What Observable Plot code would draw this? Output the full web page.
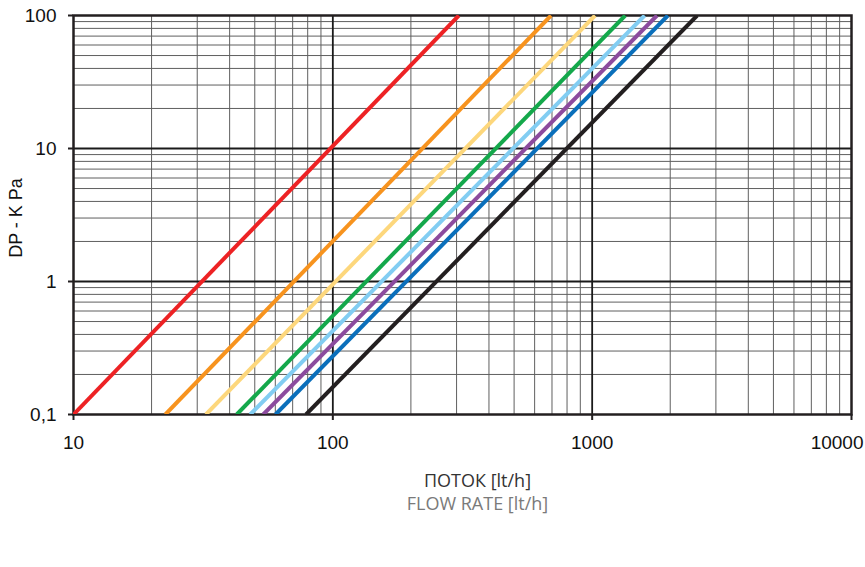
<!DOCTYPE html>
<html>
<head>
<meta charset="utf-8">
<script src="https://cdn.jsdelivr.net/npm/d3@7"></script>
<script src="https://cdn.jsdelivr.net/npm/@observablehq/plot@0.6"></script>
<style>
  html, body { margin: 0; padding: 0; background: #fff; }
  svg { display: block; }
</style>
</head>
<body>
<div id="chart"></div>
<script>
// Series (curves)
const seriesNames = ["rosso", "arancio", "giallo", "verde", "azzurro", "viola", "blu", "nero"];
const seriesColors = ["#ed2224", "#f7931e", "#fdd77c", "#14a84b", "#82cdf2", "#8c4b9e", "#0a6fbb", "#231f20"];
// Flow rate [lt/h] where each curve meets DP = 0.1 kPa and DP = 100 kPa
const flowAtLow = [10, 22.6, 32.4, 42.6, 48, 53.9, 60.1, 78.8];
const flowAtHigh = [306, 694, 1026, 1341, 1593, 1778, 1959, 2540];
const dpLow = 0.1;
const dpHigh = 100;

// Axis ticks
const xTicks = [10, 100, 1000, 10000];
const yTicks = [0.1, 1, 10, 100];
const yTickLabels = ["0,1", "1", "10", "100"];

// Build table
const rows = [];
seriesNames.forEach((s, i) => {
  rows.push({series: s, q: flowAtLow[i], dp: dpLow});
  rows.push({series: s, q: flowAtHigh[i], dp: dpHigh});
});

// minor grid values
const minorX = [];
for (const d of [10, 100, 1000]) for (let k = 2; k <= 9; k++) minorX.push(d * k);
const minorY = [];
for (const d of [0.1, 1, 10]) for (let k = 2; k <= 9; k++) minorY.push(+(d * k).toPrecision(3));

const lastX = xTicks[xTicks.length - 1];

const chart = Plot.plot({
  width: 865,
  height: 567,
  marginLeft: 73,
  marginRight: 14,
  marginTop: 15,
  marginBottom: 153,
  style: {fontFamily: "'Liberation Sans', Arial, sans-serif", background: "#fff", fontSize: "19px"},
  x: {type: "log", domain: [10, 10000], axis: null},
  y: {type: "log", domain: [0.1, 100], axis: null},
  color: {domain: seriesNames, range: seriesColors},
  marks: [
    Plot.ruleX(minorX, {stroke: "#5f5f5f", strokeWidth: 1}),
    Plot.ruleY(minorY, {stroke: "#5f5f5f", strokeWidth: 1}),
    Plot.ruleX([100, 1000], {stroke: "#1a1a1a", strokeWidth: 1.8}),
    Plot.ruleY([1, 10], {stroke: "#1a1a1a", strokeWidth: 1.8}),
    Plot.frame({stroke: "#231f20", strokeWidth: 2.5}),
    Plot.line(rows, {x: "q", y: "dp", z: "series", stroke: "series", strokeWidth: 4, strokeLinecap: "butt", clip: true}),
    Plot.axisX({
      ticks: xTicks, tickSize: 6, tickPadding: 15, fontSize: 19,
      tickFormat: d => (d === lastX ? "" : String(d)), label: null, stroke: "#231f20", strokeWidth: 2, color: "#111"
    }),
    Plot.text([lastX], {
      x: d => d, frameAnchor: "bottom", textAnchor: "end", lineAnchor: "top",
      dx: 12, dy: 21, text: d => String(d), fontSize: 19, fill: "#111"
    }),
    Plot.axisY({
      ticks: yTicks, tickSize: 5, tickPadding: 12, fontSize: 19,
      tickFormat: d => yTickLabels[yTicks.indexOf(d)], label: null, stroke: "#231f20", strokeWidth: 2, color: "#111"
    }),
    Plot.text(["DP - K Pa"], {
      frameAnchor: "left", textAnchor: "middle", dx: -57, dy: 3, rotate: -90, text: d => d,
      fontSize: 18, fill: "#111"
    }),
    Plot.text(["ПОТОК [lt/h]"], {
      frameAnchor: "bottom", dx: 15, dy: 72, text: d => d,
      fontSize: 18, fill: "#333", fontFamily: "'Open Sans', sans-serif"
    }),
    Plot.text(["FLOW RATE [lt/h]"], {
      frameAnchor: "bottom", dx: 15, dy: 95, text: d => d,
      fontSize: 18, fill: "#7a7a7a", fontFamily: "'Open Sans', sans-serif"
    })
  ]
});
document.getElementById("chart").append(chart);
</script>
</body>
</html>
